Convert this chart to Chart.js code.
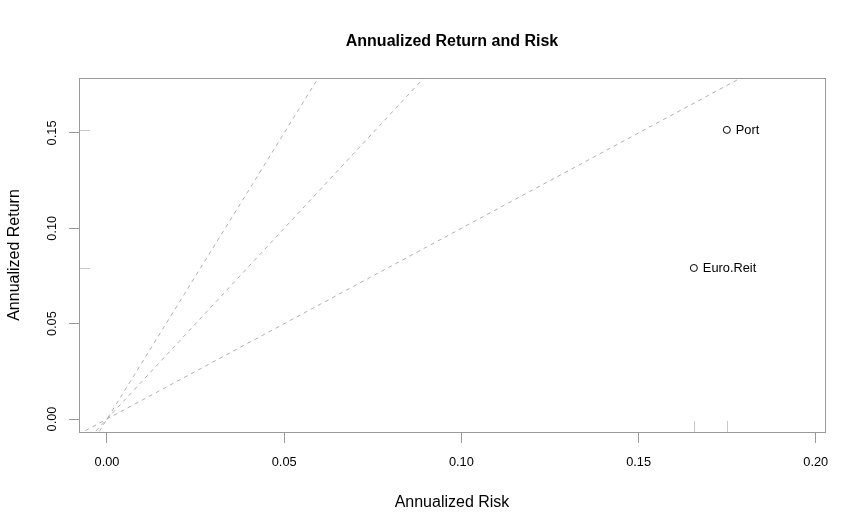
<!DOCTYPE html>
<html><head><meta charset="utf-8">
<script src="https://cdn.jsdelivr.net/npm/chart.js@4"></script>
<style>html,body{margin:0;padding:0;background:#fff}#wrap{width:866px;height:531px}</style>
</head><body><div id="wrap"><canvas id="c" width="866" height="531"></canvas></div>
<script>
const assets = ['Port', 'Euro.Reit'];
const annualizedRisk = [0.1749, 0.1656];
const annualizedReturn = [0.1516, 0.0792];
const xTickValues = [0, 0.05, 0.10, 0.15, 0.20];
const yTickValues = [0, 0.05, 0.10, 0.15];
// Sharpe ratio reference lines (1, 2, 3) as endpoint pairs
const sharpeLine1 = [{x: -0.02, y: -0.02}, {x: 0.22, y: 0.22}];
const sharpeLine2 = [{x: -0.02, y: -0.04}, {x: 0.22, y: 0.44}];
const sharpeLine3 = [{x: -0.02, y: -0.06}, {x: 0.22, y: 0.66}];
const chartTitle = 'Annualized Return and Risk';
const xTitle = 'Annualized Risk';
const yTitle = 'Annualized Return';

const FONT = '"Liberation Sans", Arial, Helvetica, sans-serif';
const AXIS_GREY = '#9a9a9a';
const RUG_GREY = '#c8c8c8';

const overlay = {
  id: 'overlay',
  afterDatasetsDraw(chart) {
    const {ctx, chartArea: a, scales: {x, y}} = chart;
    ctx.save();
    // rugs
    ctx.strokeStyle = RUG_GREY;
    ctx.lineWidth = 1;
    annualizedRisk.forEach(v => {
      const px = Math.round(x.getPixelForValue(v)) + 0.5;
      ctx.beginPath(); ctx.moveTo(px, a.bottom); ctx.lineTo(px, a.bottom - 11); ctx.stroke();
    });
    annualizedReturn.forEach(v => {
      const py = Math.round(y.getPixelForValue(v)) + 0.5;
      ctx.beginPath(); ctx.moveTo(a.left, py); ctx.lineTo(a.left + 11, py); ctx.stroke();
    });
    // box
    ctx.strokeStyle = AXIS_GREY;
    ctx.strokeRect(Math.round(a.left) + 0.5, Math.round(a.top) + 0.5,
      Math.round(a.right - a.left), Math.round(a.bottom - a.top));
    // point labels
    ctx.fillStyle = '#000';
    ctx.font = '12.8px ' + FONT;
    ctx.textAlign = 'left';
    ctx.textBaseline = 'middle';
    assets.forEach((n, i) => {
      ctx.fillText(n, x.getPixelForValue(annualizedRisk[i]) + 9, y.getPixelForValue(annualizedReturn[i]) + 0.5);
    });
    // y tick labels (rotated)
    y.ticks.forEach(t => {
      const py = y.getPixelForValue(t.value);
      ctx.save();
      ctx.translate(52, py);
      ctx.rotate(-Math.PI / 2);
      ctx.textAlign = 'center';
      ctx.textBaseline = 'middle';
      ctx.fillText(t.value.toFixed(2), 0, 0);
      ctx.restore();
    });
    // title
    ctx.font = 'bold 16px ' + FONT;
    ctx.textAlign = 'center';
    ctx.textBaseline = 'middle';
    ctx.fillText(chartTitle, (a.left + a.right) / 2, 42);
    ctx.restore();
  }
};

const lineDs = d => ({data: d, showLine: true, borderColor: '#b0b0b0', borderWidth: 1,
  borderDash: [4, 4], pointRadius: 0, fill: false, tension: 0});

new Chart(document.getElementById('c'), {
  type: 'scatter',
  data: {datasets: [
    {data: assets.map((a, i) => ({x: annualizedRisk[i], y: annualizedReturn[i]})),
     pointStyle: 'circle', pointRadius: 3.5, borderColor: '#000', backgroundColor: 'rgba(0,0,0,0)', borderWidth: 1},
    lineDs(sharpeLine1), lineDs(sharpeLine2), lineDs(sharpeLine3)
  ]},
  options: {
    responsive: false, animation: false, devicePixelRatio: 1,
    layout: {padding: {left: 0, top: 78, right: 41, bottom: 0}},
    plugins: {legend: {display: false}, tooltip: {enabled: false}, title: {display: false}},
    scales: {
      x: {
        type: 'linear', min: -0.0079, max: 0.2026,
        afterFit(s) { s.height = 99; },
        afterBuildTicks(s) { s.ticks = xTickValues.map(v => ({value: v})); },
        ticks: {callback: v => Number(v).toFixed(2), color: '#000', font: {family: FONT, size: 12.8},
          padding: 12, maxRotation: 0, minRotation: 0, autoSkip: false},
        grid: {display: true, drawOnChartArea: false, drawTicks: true, tickLength: 11, color: AXIS_GREY},
        border: {display: false},
        title: {display: true, text: xTitle, color: '#000', font: {family: FONT, size: 16}, padding: {top: 0, bottom: 19}}
      },
      y: {
        type: 'linear', min: -0.0068, max: 0.1788,
        afterFit(s) { s.width = 79; },
        afterBuildTicks(s) { s.ticks = yTickValues.map(v => ({value: v})); },
        ticks: {display: false},
        grid: {display: true, drawOnChartArea: false, drawTicks: true, tickLength: 10, color: AXIS_GREY},
        border: {display: false},
        title: {display: true, text: yTitle, color: '#000', font: {family: FONT, size: 16}, padding: {top: 5, bottom: 0}}
      }
    }
  },
  plugins: [overlay]
});
</script></body></html>
